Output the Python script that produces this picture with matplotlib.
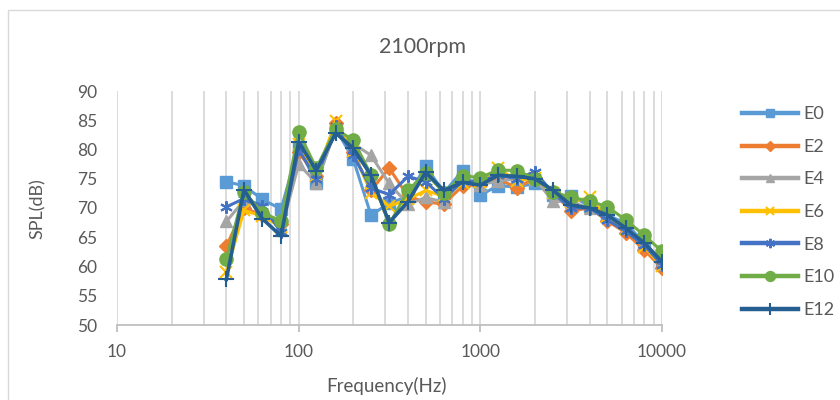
import matplotlib
matplotlib.use("Agg")
import matplotlib.pyplot as plt
from matplotlib.patches import Rectangle
from matplotlib.ticker import LogLocator, FixedLocator, NullFormatter

freqs = [40, 50, 63, 80, 100, 125, 160, 200, 250, 315, 400, 500, 630, 800,
         1000, 1250, 1600, 2000, 2500, 3150, 4000, 5000, 6300, 8000, 10000]

E0 = [74.5, 73.8, 71.5, 69.8, 80.5, 74.2, 83.6, 78.3, 68.8, 70.8, 72.0, 77.2, 72.6,
      76.4, 72.2, 73.8, 73.6, 74.2, 72.2, 72.0, 70.4, 68.8, 67.4, 64.0, 60.6]
E2 = [63.5, 70.0, 68.8, 67.2, 79.5, 75.5, 84.6, 79.5, 73.0, 76.8, 72.0, 71.0, 70.7,
      73.8, 74.0, 75.0, 73.4, 75.2, 72.8, 69.5, 70.0, 67.8, 65.8, 62.8, 59.7]
E4 = [67.7, 71.3, 70.0, 66.2, 77.5, 74.3, 83.5, 81.0, 79.0, 74.2, 70.6, 71.8, 71.0,
      75.0, 74.0, 74.6, 75.0, 75.0, 71.2, 71.0, 70.0, 68.6, 66.6, 64.0, 60.5]
E6 = [59.0, 69.6, 68.6, 66.8, 81.0, 75.5, 84.8, 79.6, 72.6, 70.3, 71.5, 73.0, 72.0,
      74.2, 74.5, 76.8, 74.6, 75.2, 72.6, 71.0, 71.8, 68.4, 66.4, 63.4, 60.0]
E8 = [70.2, 71.6, 70.4, 65.9, 80.0, 75.0, 84.0, 79.0, 73.4, 72.3, 75.4, 74.5, 71.6,
      74.6, 74.6, 75.6, 75.0, 76.2, 72.6, 70.0, 70.0, 68.0, 66.0, 63.6, 60.3]
E10 = [61.3, 72.8, 69.2, 67.8, 83.0, 76.8, 83.5, 81.6, 75.7, 67.2, 73.0, 76.0, 72.6,
       75.5, 75.2, 76.5, 76.4, 75.0, 72.8, 71.8, 71.2, 70.2, 68.0, 65.3, 62.6]
E12 = [57.8, 73.1, 68.2, 65.2, 81.3, 76.4, 82.8, 80.2, 75.6, 67.5, 71.1, 76.1, 73.0,
       74.4, 73.9, 75.6, 75.4, 75.0, 73.1, 70.5, 70.0, 68.8, 66.6, 64.0, 60.8]

series_names = ["E0", "E2", "E4", "E6", "E8", "E10", "E12"]
series_values = [E0, E2, E4, E6, E8, E10, E12]
title = "2100rpm"
xlabel = "Frequency(Hz)"
ylabel = "SPL(dB)"
xticks = [10, 100, 1000, 10000]
xticklabels = ["10", "100", "1000", "10000"]
yticks = [50, 55, 60, 65, 70, 75, 80, 85, 90]

colors = ["#5B9BD5", "#ED7D31", "#A5A5A5", "#FFC000", "#4472C4", "#70AD47", "#255E91"]
markers = ["s", "D", "^", "x", (6, 2, 0), "o", "+"]
msizes = [8.5, 7, 8.5, 8, 9, 9.5, 11]
mews = [1, 1, 1, 1.5, 1.5, 1, 1.5]

plt.rcParams['font.family'] = ['Lato', 'DejaVu Sans']
text_color = "#595959"

fig = plt.figure(figsize=(8.4, 4.0), dpi=100)
fig.patches.append(Rectangle((8/840, -0.05), 1.1, 1 - 10/400 + 0.05,
                             transform=fig.transFigure, fill=False,
                             edgecolor="#D9D9D9", linewidth=1.0))
ax = fig.add_axes([117/840, 1 - 325/400, (662 - 117)/840, (325 - 91)/400])

for name, vals, c, m, ms, mew in zip(series_names, series_values, colors, markers, msizes, mews):
    lw = 2.6 if name == "E12" else 2.2
    ax.plot(freqs, vals, color=c, marker=m, markersize=ms, markeredgewidth=mew,
            markeredgecolor=c, markerfacecolor=c, linewidth=lw, label=name)

ax.set_xscale("log")
ax.set_xlim(10, 10000)
ax.set_ylim(50, 90)
ax.xaxis.set_major_locator(FixedLocator(xticks))
ax.set_xticklabels(xticklabels)
ax.xaxis.set_minor_locator(LogLocator(base=10, subs=range(2, 10)))
ax.xaxis.set_minor_formatter(NullFormatter())
ax.set_yticks(yticks)
ax.grid(which="both", axis="x", color="#D9D9D9", linewidth=1.3)
ax.set_axisbelow(True)
for s in ["top", "right", "left"]:
    ax.spines[s].set_visible(False)
ax.spines["bottom"].set_color("#BFBFBF")
ax.spines["bottom"].set_linewidth(1.3)
ax.tick_params(axis="x", which="major", length=5, color="#BFBFBF", width=1.3,
               labelsize=12.5, labelcolor=text_color, pad=9)
ax.tick_params(axis="x", which="minor", length=0)
ax.tick_params(axis="y", length=0, labelsize=12.5, labelcolor=text_color, pad=14)

fig.text(423/840, 1 - 47/400, title, ha="center", va="center", fontsize=15.5, color=text_color)
fig.text(38/840, 1 - 209/400, ylabel, ha="center", va="center", rotation=90,
         fontsize=13, color=text_color)
fig.text(387/840, 1 - 386/400, xlabel, ha="center", va="center", fontsize=13.5, color=text_color)

leg = fig.legend(loc="upper left", bbox_to_anchor=(726/840, 1 - 90/400), frameon=False,
                 fontsize=13, handlelength=3.1, labelspacing=0.92, handletextpad=0.3,
                 labelcolor=text_color, markerscale=0.75)
for ln in leg.get_lines():
    ln.set_linewidth(3.2)

fig.savefig("out.png", dpi=100)
